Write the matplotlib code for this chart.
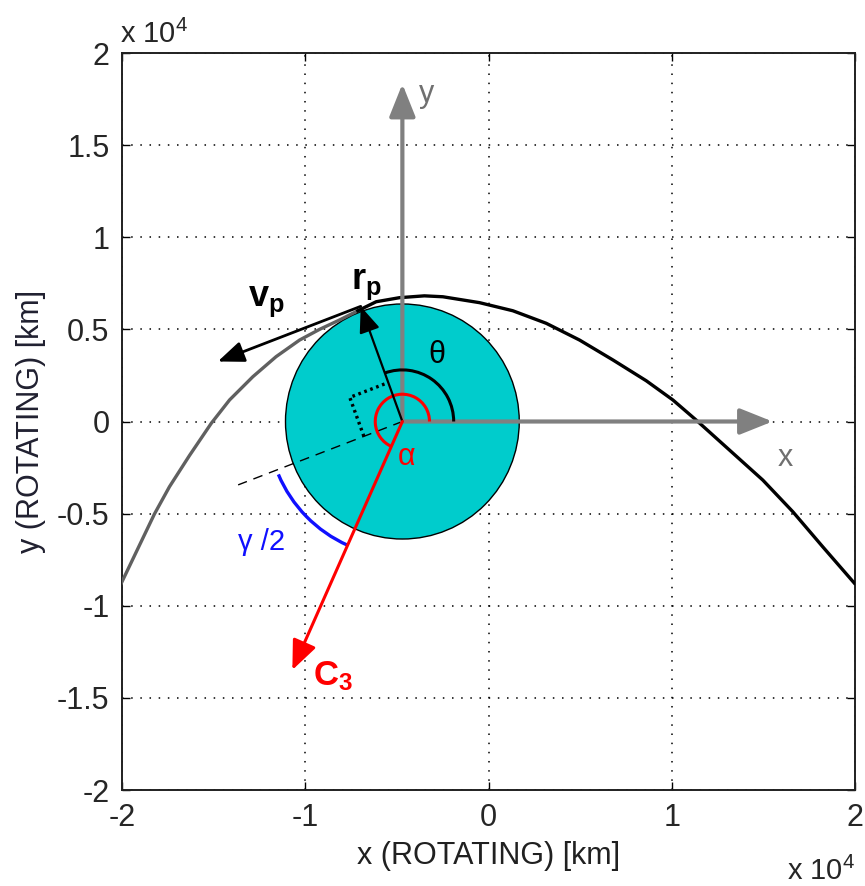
import numpy as np
import matplotlib
matplotlib.use('Agg')
import matplotlib.pyplot as plt
from matplotlib.patches import Circle, Arc, ArrowStyle

plt.rcParams['font.family'] = ['Liberation Sans', 'DejaVu Sans']
plt.rcParams['mathtext.fontset'] = 'custom'
plt.rcParams['mathtext.rm'] = 'Liberation Sans'
plt.rcParams['mathtext.it'] = 'Liberation Sans:italic'
plt.rcParams['mathtext.bf'] = 'Liberation Sans:bold'

# trajectory [km], incoming part (grey) and outgoing part (black)
in_x = [-20040, -18230, -17410, -16320, -15130, -14130, -12860, -11590, -10310, -9220, -8130, -7130]
in_y = [-8780, -5020, -3540, -1850, -100, 1170, 2430, 3520, 4420, 5000, 5510, 6010]
out_x = [-7130, -6130, -4860, -3500, -2490, -490, 1330, 3150, 4970, 6790, 8610, 10060, 11330,
         13150, 14970, 16610, 18240, 19970]
out_y = [6010, 6500, 6720, 6820, 6770, 6450, 6010, 5330, 4420, 3340, 2210, 1170, 80,
         -1550, -3180, -4900, -6800, -8780]

# earth
earth_x, earth_y = -4700, 0
earth_r = 6378

# geometry of the flyby (angles in deg, lengths in km)
theta_deg = 110      # periapsis angle
alpha_deg = 246      # C3 direction
vp_deg = 201         # velocity direction at periapsis
rp_len = 6650
vp_len = 8350
c3_len = 14760
theta_arc_r = 2800
alpha_arc_r = 1480
gamma_arc_r = 7350
dash_len = 9600
square_len = 2250
yaxis_len = 18320
xaxis_len = 20200

ticks_x = [-20000, -10000, 0, 10000, 20000]
ticks_y = [-20000, -15000, -10000, -5000, 0, 5000, 10000, 15000, 20000]
ticklabels_x = ['-2', '-1', '0', '1', '2']
ticklabels_y = ['-2', '-1.5', '-1', '-0.5', '0', '0.5', '1', '1.5', '2']


def polar(r, deg):
    a = np.deg2rad(deg)
    return earth_x + r * np.cos(a), earth_y + r * np.sin(a)


def arrow(ax, start, end, color, lw, hl, hw, scale=20, z=6):
    ax.annotate('', xy=end, xytext=start,
                arrowprops=dict(arrowstyle=ArrowStyle('-|>', head_length=hl, head_width=hw),
                                color=color, lw=lw, shrinkA=0, shrinkB=0,
                                mutation_scale=scale),
                zorder=z)


fig = plt.figure(figsize=(8.65, 8.86), dpi=100)
ax = fig.add_axes([122 / 865, 96 / 886, 733 / 865, 737 / 886])

ax.add_patch(Circle((earth_x, earth_y), earth_r, facecolor='#00CCCC', edgecolor='black',
                    lw=1.0, zorder=2))

ax.plot(in_x, in_y, color='#606060', lw=2.4, zorder=3)
ax.plot(out_x, out_y, color='black', lw=2.4, zorder=3)

# dashed line through centre (parallel to v_p)
ax.plot(*zip((earth_x, earth_y), polar(dash_len, vp_deg)), color='black', lw=1.0,
        ls=(0, (7, 5)), zorder=4)

# right angle mark
p1 = np.array(polar(square_len, vp_deg))
p2 = np.array(polar(square_len, theta_deg))
corner = p1 + p2 - np.array([earth_x, earth_y])
sq = np.array([p1, corner, p2])
ax.plot(sq[:, 0], sq[:, 1], color='black', lw=2.4, ls=(0, (0.8, 1.1)), zorder=4)

# grey rotating axes
arrow(ax, (earth_x, earth_y), polar(yaxis_len, 90), '#808080', 3.0, 1.0, 0.4, z=5)
arrow(ax, (earth_x, earth_y), polar(xaxis_len, 0), '#808080', 3.0, 1.0, 0.4, z=5)

# angle arcs
ax.add_patch(Arc((earth_x, earth_y), 2 * theta_arc_r, 2 * theta_arc_r, theta1=0, theta2=theta_deg,
                 color='black', lw=2.2, zorder=6))
ax.add_patch(Arc((earth_x, earth_y), 2 * alpha_arc_r, 2 * alpha_arc_r, theta1=0, theta2=alpha_deg,
                 color='red', lw=2.2, zorder=6))
ax.add_patch(Arc((earth_x, earth_y), 2 * gamma_arc_r, 2 * gamma_arc_r, theta1=vp_deg + 2,
                 theta2=alpha_deg, color='#1010FF', lw=2.4, zorder=6))

# vectors
rp_tip = polar(rp_len, theta_deg)
arrow(ax, (earth_x, earth_y), rp_tip, 'black', 1.6, 0.8, 0.32, z=7)
vp_tip = (rp_tip[0] + vp_len * np.cos(np.deg2rad(vp_deg)),
          rp_tip[1] + vp_len * np.sin(np.deg2rad(vp_deg)))
arrow(ax, rp_tip, vp_tip, 'black', 2.0, 0.8, 0.32, z=7)
arrow(ax, (earth_x, earth_y), polar(c3_len, alpha_deg), 'red', 2.2, 0.9, 0.38, z=7)

# labels
ax.text(-3380, 17770, 'y', color='#707070', fontsize=22, ha='center', va='center')
ax.text(16210, -1980, 'x', color='#707070', fontsize=22, ha='center', va='center')
ax.text(-2840, 3610, 'θ', color='black', fontsize=22, ha='center', va='center', zorder=8)
ax.text(-4490, -1910, 'α', color='red', fontsize=22, ha='center', va='center', zorder=8)
ax.text(-12400, -6520, 'γ /2', color='#1010FF', fontsize=21, ha='center', va='center')
ax.text(-12110, 6490, r'$\mathbf{v}_\mathbf{p}$', color='black', fontsize=26,
        ha='center', va='center')
ax.text(-6660, 7460, r'$\mathbf{r}_\mathbf{p}$', color='black', fontsize=26,
        ha='center', va='center')
ax.text(-8460, -13810, r'$\mathbf{C}_\mathbf{3}$', color='red', fontsize=25,
        ha='center', va='center')

ax.set_xlim(-20000, 20000)
ax.set_ylim(-20000, 20000)
ax.set_xticks(ticks_x)
ax.set_xticklabels(ticklabels_x)
ax.set_yticks(ticks_y)
ax.set_yticklabels(ticklabels_y)
ax.tick_params(direction='in', length=6, width=1.0, top=True, right=True,
               labelsize=22, labelcolor='#262626', pad=9)
ax.grid(True, color='black', lw=1.1, ls=(0, (1, 5)))
for s in ax.spines.values():
    s.set_linewidth(1.4)
    s.set_color('#202020')

ax.set_xlabel('x (ROTATING) [km]', fontsize=22, color='#202020', labelpad=6)
ax.set_ylabel('y (ROTATING) [km]', fontsize=22, color='#202030', labelpad=8)

# MATLAB style exponent labels
fig.text(120 / 865, 1 - 43 / 886, r'x 10$^{4}$', fontsize=21, color='#262626', ha='left',
         va='baseline')
fig.text(787 / 865, 1 - 880 / 886, r'x 10$^{4}$', fontsize=21, color='#262626', ha='left',
         va='baseline')

fig.savefig('out.png', dpi=100)
